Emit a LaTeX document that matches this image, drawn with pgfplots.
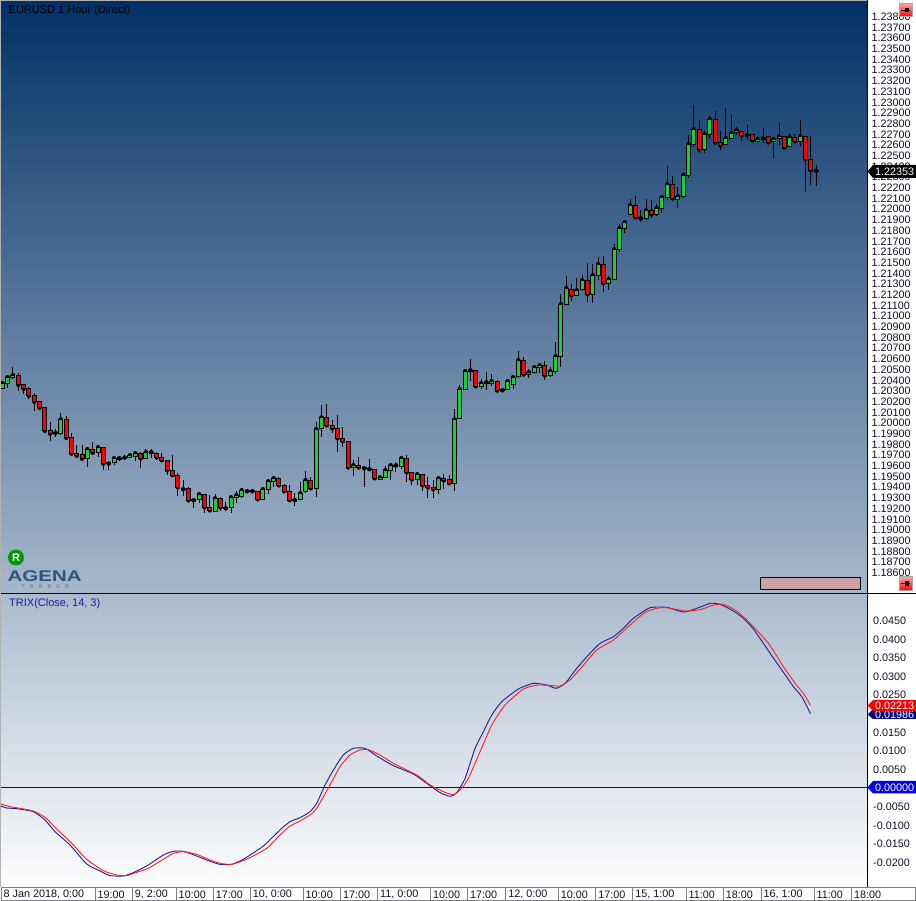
\documentclass[border=0pt]{standalone}
\usepackage{fontspec}
\usepackage{graphicx}
\setmainfont{Liberation Sans}
\usepackage{pgfplots}
\usepackage{pgfplotstable}
\pgfplotsset{compat=1.18}
\definecolor{cgreen}{RGB}{28,205,55}
\definecolor{cred}{RGB}{255,0,0}
\definecolor{bgA}{RGB}{2,48,102}
\definecolor{bgB}{RGB}{166,184,204}
\definecolor{bgC}{RGB}{170,187,205}
\definecolor{bgD}{RGB}{253,253,254}
\definecolor{trixblue}{RGB}{28,28,160}
\definecolor{trixred}{RGB}{255,30,30}
\definecolor{zeroblue}{RGB}{0,0,225}
\definecolor{lbl}{RGB}{22,14,40}
\definecolor{logo}{RGB}{45,85,125}
\definecolor{scroller}{RGB}{205,160,166}
\definecolor{navytag}{RGB}{0,0,130}
\newcommand{\lblfont}{\fontsize{10.8}{12}\selectfont}
\newcommand{\ttlfont}{\fontsize{11}{12}\selectfont}
\pgfplotstableread{
i o h l c
0 1.20316 1.20381 1.20316 1.20366
1 1.20366 1.20441 1.20325 1.20422
2 1.20419 1.20515 1.20409 1.20441
3 1.20441 1.20459 1.20297 1.20353
4 1.20356 1.20356 1.20269 1.20316
5 1.20319 1.20328 1.20222 1.20250
6 1.20254 1.20279 1.20110 1.20194
7 1.20197 1.20204 1.20120 1.20138
8 1.20141 1.20141 1.19923 1.19923
9 1.19926 1.20001 1.19830 1.19895
10 1.19908 1.19936 1.19864 1.19901
11 1.19895 1.20085 1.19886 1.20029
12 1.20029 1.20057 1.19839 1.19858
13 1.19861 1.19898 1.19699 1.19708
14 1.19711 1.19786 1.19680 1.19689
15 1.19699 1.19786 1.19661 1.19661
16 1.19661 1.19767 1.19587 1.19749
17 1.19749 1.19814 1.19699 1.19717
18 1.19717 1.19786 1.19680 1.19767
19 1.19767 1.19767 1.19559 1.19615
20 1.19627 1.19627 1.19559 1.19615
21 1.19627 1.19665 1.19605 1.19665
22 1.19655 1.19683 1.19636 1.19665
23 1.19661 1.19693 1.19652 1.19671
24 1.19674 1.19702 1.19665 1.19693
25 1.19683 1.19730 1.19643 1.19711
26 1.19711 1.19721 1.19577 1.19665
27 1.19665 1.19749 1.19665 1.19721
28 1.19711 1.19749 1.19671 1.19721
29 1.19711 1.19721 1.19652 1.19674
30 1.19674 1.19711 1.19636 1.19646
31 1.19646 1.19646 1.19512 1.19552
32 1.19552 1.19699 1.19506 1.19506
33 1.19506 1.19524 1.19315 1.19393
34 1.19384 1.19459 1.19315 1.19375
35 1.19384 1.19393 1.19244 1.19272
36 1.19281 1.19290 1.19200 1.19272
37 1.19281 1.19347 1.19244 1.19328
38 1.19328 1.19328 1.19156 1.19206
39 1.19206 1.19319 1.19169 1.19178
40 1.19169 1.19328 1.19169 1.19290
41 1.19290 1.19300 1.19175 1.19206
42 1.19206 1.19253 1.19175 1.19197
43 1.19206 1.19300 1.19156 1.19300
44 1.19300 1.19356 1.19244 1.19318
45 1.19309 1.19384 1.19290 1.19365
46 1.19365 1.19375 1.19356 1.19356
47 1.19365 1.19375 1.19347 1.19356
48 1.19356 1.19356 1.19272 1.19281
49 1.19281 1.19384 1.19281 1.19375
50 1.19375 1.19468 1.19328 1.19449
51 1.19449 1.19487 1.19400 1.19478
52 1.19478 1.19487 1.19400 1.19412
53 1.19412 1.19421 1.19356 1.19356
54 1.19356 1.19412 1.19262 1.19272
55 1.19281 1.19337 1.19222 1.19272
56 1.19281 1.19440 1.19272 1.19337
57 1.19356 1.19543 1.19337 1.19459
58 1.19459 1.19487 1.19375 1.19384
59 1.19384 1.20001 1.19306 1.19936
60 1.19945 1.20160 1.19867 1.20048
61 1.20048 1.20169 1.19954 1.19973
62 1.19973 1.20020 1.19898 1.19945
63 1.19945 1.20067 1.19727 1.19852
64 1.19852 1.19954 1.19767 1.19824
65 1.19824 1.19824 1.19552 1.19580
66 1.19580 1.19646 1.19502 1.19599
67 1.19599 1.19674 1.19552 1.19580
68 1.19580 1.19580 1.19400 1.19571
69 1.19571 1.19655 1.19543 1.19562
70 1.19562 1.19562 1.19468 1.19478
71 1.19468 1.19487 1.19468 1.19487
72 1.19487 1.19590 1.19487 1.19552
73 1.19552 1.19599 1.19462 1.19599
74 1.19590 1.19627 1.19534 1.19599
75 1.19590 1.19683 1.19562 1.19665
76 1.19665 1.19693 1.19446 1.19534
77 1.19534 1.19534 1.19412 1.19468
78 1.19468 1.19534 1.19412 1.19515
79 1.19515 1.19515 1.19356 1.19412
80 1.19412 1.19487 1.19290 1.19393
81 1.19393 1.19459 1.19290 1.19375
82 1.19375 1.19487 1.19328 1.19478
83 1.19478 1.19515 1.19375 1.19459
84 1.19468 1.19506 1.19421 1.19431
85 1.19431 1.20123 1.19356 1.20029
86 1.20035 1.20347 1.20029 1.20310
87 1.20310 1.20487 1.20310 1.20478
88 1.20478 1.20590 1.20384 1.20487
89 1.20487 1.20487 1.20319 1.20338
90 1.20338 1.20403 1.20310 1.20366
91 1.20366 1.20469 1.20300 1.20375
92 1.20366 1.20450 1.20338 1.20384
93 1.20384 1.20394 1.20272 1.20300
94 1.20310 1.20310 1.20282 1.20300
95 1.20310 1.20403 1.20310 1.20384
96 1.20356 1.20441 1.20310 1.20422
97 1.20431 1.20665 1.20412 1.20581
98 1.20581 1.20609 1.20422 1.20450
99 1.20450 1.20497 1.20412 1.20469
100 1.20469 1.20525 1.20450 1.20515
101 1.20515 1.20543 1.20459 1.20534
102 1.20534 1.20571 1.20394 1.20441
103 1.20441 1.20515 1.20422 1.20478
104 1.20478 1.20749 1.20450 1.20618
105 1.20618 1.21198 1.20515 1.21104
106 1.21104 1.21366 1.21104 1.21254
107 1.21245 1.21291 1.21139 1.21189
108 1.21189 1.21348 1.21189 1.21235
109 1.21245 1.21376 1.21226 1.21329
110 1.21329 1.21488 1.21123 1.21198
111 1.21198 1.21478 1.21114 1.21376
112 1.21376 1.21544 1.21329 1.21478
113 1.21478 1.21553 1.21223 1.21301
114 1.21301 1.21366 1.21235 1.21338
115 1.21338 1.21665 1.21338 1.21619
116 1.21619 1.21852 1.21597 1.21815
117 1.21815 1.21880 1.21768 1.21871
118 1.21946 1.22086 1.21946 1.22030
119 1.22030 1.22114 1.21908 1.21918
120 1.21918 1.21983 1.21871 1.21908
121 1.21908 1.22086 1.21890 1.21983
122 1.21983 1.22077 1.21908 1.21946
123 1.21946 1.22039 1.21927 1.22002
124 1.22002 1.22105 1.21955 1.22105
125 1.22105 1.22395 1.22077 1.22226
126 1.22226 1.22301 1.22077 1.22095
127 1.22086 1.22198 1.22008 1.22114
128 1.22114 1.22339 1.22095 1.22311
129 1.22311 1.22685 1.22283 1.22600
130 1.22600 1.22965 1.22572 1.22741
131 1.22741 1.22825 1.22516 1.22554
132 1.22554 1.22722 1.22516 1.22694
133 1.22694 1.22862 1.22647 1.22834
134 1.22834 1.22909 1.22591 1.22619
135 1.22619 1.22722 1.22544 1.22591
136 1.22600 1.22937 1.22591 1.22657
137 1.22657 1.22872 1.22647 1.22703
138 1.22713 1.22759 1.22685 1.22731
139 1.22722 1.22722 1.22629 1.22685
140 1.22694 1.22778 1.22638 1.22685
141 1.22694 1.22694 1.22629 1.22638
142 1.22629 1.22675 1.22629 1.22647
143 1.22666 1.22750 1.22613 1.22657
144 1.22675 1.22675 1.22600 1.22619
145 1.22629 1.22647 1.22470 1.22647
146 1.22657 1.22797 1.22591 1.22675
147 1.22675 1.22675 1.22554 1.22572
148 1.22582 1.22703 1.22572 1.22666
149 1.22666 1.22694 1.22610 1.22629
150 1.22629 1.22825 1.22582 1.22675
151 1.22675 1.22675 1.22158 1.22460
152 1.22460 1.22675 1.22220 1.22357
153 1.22360 1.22404 1.22211 1.22353
}\candles
\pgfplotstableread{
x y
-0.24 -0.00497
0.82 -0.00551
2.70 -0.00569
5.83 -0.00650
8.03 -0.00874
9.91 -0.01187
12.73 -0.01546
15.87 -0.02056
18.37 -0.02245
20.25 -0.02370
22.75 -0.02379
24.63 -0.02289
27.13 -0.02110
30.27 -0.01815
32.15 -0.01716
34.03 -0.01716
36.53 -0.01841
39.05 -0.01985
40.92 -0.02065
43.12 -0.02065
45.30 -0.01931
49.06 -0.01573
52.20 -0.01142
54.09 -0.00918
55.97 -0.00811
57.85 -0.00650
59.10 -0.00426
60.67 0.00067
62.23 0.00470
64.10 0.00874
65.99 0.01053
68.19 0.01053
70.39 0.00847
73.50 0.00587
77.27 0.00363
79.78 0.00112
82.29 -0.00139
84.17 -0.00237
85.42 -0.00139
86.99 0.00246
88.87 0.01053
90.44 0.01501
92.00 0.01949
93.88 0.02307
97.01 0.02648
99.83 0.02800
102.34 0.02755
104.10 0.02666
105.79 0.02800
107.98 0.03204
110.17 0.03562
112.37 0.03876
114.88 0.04055
116.75 0.04279
118.63 0.04548
121.77 0.04834
124.90 0.04843
128.03 0.04718
130.54 0.04816
133.05 0.04951
134.93 0.04924
137.43 0.04745
139.31 0.04548
141.19 0.04261
144.33 0.03607
146.83 0.03096
148.71 0.02711
150.28 0.02442
151.91 0.01986
}\trixbluedata
\pgfplotstableread{
x y
-0.24 -0.00444
1.45 -0.00515
3.33 -0.00560
5.83 -0.00632
8.03 -0.00802
10.23 -0.01116
13.05 -0.01501
15.87 -0.01931
19.00 -0.02236
21.50 -0.02352
23.38 -0.02370
25.26 -0.02280
27.44 -0.02173
30.27 -0.01931
32.15 -0.01770
34.03 -0.01725
36.53 -0.01797
39.05 -0.01949
40.92 -0.02038
43.12 -0.02065
45.90 -0.01931
49.70 -0.01635
52.20 -0.01277
54.09 -0.01035
55.97 -0.00901
57.85 -0.00739
59.10 -0.00560
61.60 0.00067
63.49 0.00560
65.37 0.00874
67.25 0.01008
68.81 0.01017
71.00 0.00874
73.50 0.00650
77.90 0.00336
80.41 0.00067
82.91 -0.00112
84.79 -0.00193
86.36 -0.00022
87.61 0.00246
89.81 0.00963
92.00 0.01680
94.51 0.02218
97.95 0.02648
100.77 0.02755
103.59 0.02737
104.85 0.02729
106.73 0.02890
108.61 0.03185
111.74 0.03696
114.88 0.03965
118.00 0.04368
120.83 0.04709
123.02 0.04816
124.90 0.04834
128.35 0.04745
131.17 0.04780
133.67 0.04906
135.55 0.04924
138.06 0.04745
140.57 0.04413
144.01 0.03876
146.83 0.03248
149.03 0.02800
150.59 0.02531
151.91 0.02213
}\trixreddata
\pgfplotsset{
  chartbase/.style={
    scale only axis, width=867pt,
    xmin=-0.432, xmax=162.54,
    axis line style={draw=none},
    clip=true,
  },
}
\begin{document}
\begin{tikzpicture}[x=1pt,y=1pt]
\useasboundingbox (0,0) rectangle (916,901);
\fill[white] (0,0) rectangle (916,901);
% upper panel: gradient, tick labels and wicks
\begin{axis}[chartbase, name=top, at={(0pt,308pt)}, anchor=south west, height=593pt,
  ymin=1.18405, ymax=1.2395,
  axis background/.style={top color=bgA, bottom color=bgB},
  xtick=\empty,
  ytick={1.186,1.187,1.188,1.189,1.19,1.191,1.192,1.193,1.194,1.195,1.196,1.197,1.198,1.199,1.2,1.201,1.202,1.203,1.204,1.205,1.206,1.207,1.208,1.209,1.21,1.211,1.212,1.213,1.214,1.215,1.216,1.217,1.218,1.219,1.22,1.221,1.222,1.223,1.224,1.225,1.226,1.227,1.228,1.229,1.23,1.231,1.232,1.233,1.234,1.235,1.236,1.237,1.238},
  ytick pos=right, yticklabel pos=right, major tick length=0pt,
  scaled y ticks=false,
  /pgf/number format/fixed, /pgf/number format/fixed zerofill, /pgf/number format/precision=5,
  /pgf/number format/assume math mode=true, /pgf/number format/1000 sep={},
  yticklabel style={anchor=west, inner sep=0pt, xshift=4.5pt, yshift=-0.7pt, font=\lblfont, text=lbl},
]
\addplot[only marks, mark=none, black,
  error bars/.cd, y dir=both, y explicit, error mark=none,
  error bar style={line width=1pt, black}]
  table[x=i, y=c, y error plus expr=\thisrow{h}-\thisrow{c}, y error minus expr=\thisrow{c}-\thisrow{l}] {\candles};
\end{axis}
% upper panel: candle bodies
\begin{axis}[chartbase, at={(0pt,308pt)}, anchor=south west, height=593pt,
  ymin=1.18405, ymax=1.2395, xtick=\empty, ytick=\empty,
  ybar stacked, bar width=4pt,
]
\addplot[draw=none, fill=none] table[x=i, y expr={min(\thisrow{o},\thisrow{c})}] {\candles};
\addplot[draw=black, line width=1pt, fill=cgreen] table[x=i, y expr={max(\thisrow{c}-\thisrow{o},0)}] {\candles};
\addplot[draw=black, line width=1pt, fill=cred] table[x=i, y expr={max(\thisrow{o}-\thisrow{c},0)}] {\candles};
\end{axis}
% lower panel
\begin{axis}[chartbase, at={(0pt,14pt)}, anchor=south west, height=293pt,
  ymin=-0.02675, ymax=0.05202,
  axis background/.style={top color=bgC, bottom color=bgD},
  ytick={-0.02,-0.015,-0.01,-0.005,0.005,0.01,0.015,0.02,0.025,0.03,0.035,0.04,0.045},
  ytick pos=right, yticklabel pos=right,
  scaled y ticks=false,
  /pgf/number format/fixed, /pgf/number format/fixed zerofill, /pgf/number format/precision=4,
  /pgf/number format/assume math mode=true, /pgf/number format/1000 sep={},
  yticklabel style={anchor=west, inner sep=0pt, xshift=6pt, yshift=-0.7pt, font=\lblfont, text=lbl},
  xtick={-0.25,17.43,24.39,32.66,39.62,46.58,56.53,63.57,70.52,80.49,87.45,94.6,104.49,111.53,118.49,128.51,135.52,142.6,152.58,159.6},
  xticklabels={{8 Jan 2018, 0:00},19:00,{9, 2:00},10:00,17:00,{10, 0:00},10:00,17:00,{11, 0:00},10:00,17:00,{12, 0:00},10:00,17:00,{15, 1:00},11:00,18:00,{16, 1:00},11:00,18:00},
  xtick pos=bottom, major tick length=0pt,
  xticklabel style={anchor=west, inner sep=0pt, xshift=2.5pt, yshift=-7.3pt, font=\lblfont, text=lbl},
]
\addplot[zeroblue, line width=0.9pt, forget plot] coordinates {(-0.432,0) (162.54,0)};
\addplot[trixblue, line width=0.9pt, smooth, tension=0.35] table[x=x,y=y] {\trixbluedata};
\addplot[trixred, line width=0.9pt, smooth, tension=0.35] table[x=x,y=y] {\trixreddata};
\end{axis}
% furniture, in image pixels
\begin{scope}[shift={(0,901)}, y=-1pt]
  \draw[black, line width=1pt] (0,593.5) -- (916,593.5);
  \draw[black, line width=1pt] (867.5,0) -- (867.5,887);
  \draw[gray!60, line width=1pt] (0.5,0) -- (0.5,887);
  \draw[gray!60, line width=1pt] (0,0.5) -- (867,0.5);
  % time cells
  \draw[gray, line width=1pt] (1,888) rectangle (915,900.5);
  \foreach \x in {95,132,176,213,250,303.3,340.7,377.7,430.7,467.7,505.7,558.3,595.7,632.7,686,723.3,761,814.3,851.7}
    \draw[gray, line width=1pt] (\x,888) -- (\x,900.5);
  % texts
  \node[anchor=west, inner sep=0pt, text=black, font=\ttlfont] at (8.5,10.5) {EURUSD 1 Hour (Direct)};
  \node[anchor=west, inner sep=0pt, text=trixblue, font=\ttlfont] at (9,604) {TRIX(Close, 14, 3)};
  % logo
  \fill[green!60!black] (16,557.5) circle (8);
  \node[text=white, inner sep=0pt, font=\fontsize{11}{12}\selectfont\bfseries] at (16,557.5) {R};
  \node[anchor=west, inner sep=0pt, text=logo, font=\fontsize{15.5}{15.5}\selectfont\bfseries] at (7.5,576) {\scalebox{1.32}[1]{AGENA}};
  \node[anchor=west, inner sep=0pt, text=gray, font=\fontsize{5.5}{6}\selectfont\bfseries] at (21,586.2) {T\hspace{5pt}R\hspace{5pt}A\hspace{5pt}D\hspace{5pt}E\hspace{5pt}R};
  % scroller
  \filldraw[fill=scroller, draw=black, line width=1pt] (760.5,577.5) rectangle (860.5,589.5);
  % buttons
  \foreach \yy in {3.5,577} {
    \begin{scope}[shift={(0,\yy)}]
    \shade[top color=red!35, bottom color=red, draw=gray!70, line width=1pt] (899,0) rectangle (912.5,13.5);
    \draw[black, line width=1pt] (901,7) -- (910,7);
    \fill[black] (905,4.5) rectangle (909,9);
    \end{scope}
  }
  % price tags
  \fill[black] (867.5,171.5) -- (873,165) -- (916,165) -- (916,178) -- (873,178) -- cycle;
  \node[anchor=west, inner sep=0pt, text=white, font=\lblfont] at (875,171.7) {1.22353};
  \fill[navytag] (867.5,714.5) -- (873,709) -- (916,709) -- (916,719) -- (873,719) -- cycle;
  \node[anchor=west, inner sep=0pt, text=white, font=\lblfont] at (875,714.6) {0.01986};
  \fill[red] (867.5,705.5) -- (873,700) -- (916,700) -- (916,711) -- (873,711) -- cycle;
  \node[anchor=west, inner sep=0pt, text=white, font=\lblfont] at (875,705.7) {0.02213};
  \fill[zeroblue] (867.5,787.5) -- (873,781) -- (916,781) -- (916,793.5) -- (873,793.5) -- cycle;
  \node[anchor=west, inner sep=0pt, text=white, font=\lblfont] at (875,787.7) {0.00000};
\end{scope}
\end{tikzpicture}
\end{document}
